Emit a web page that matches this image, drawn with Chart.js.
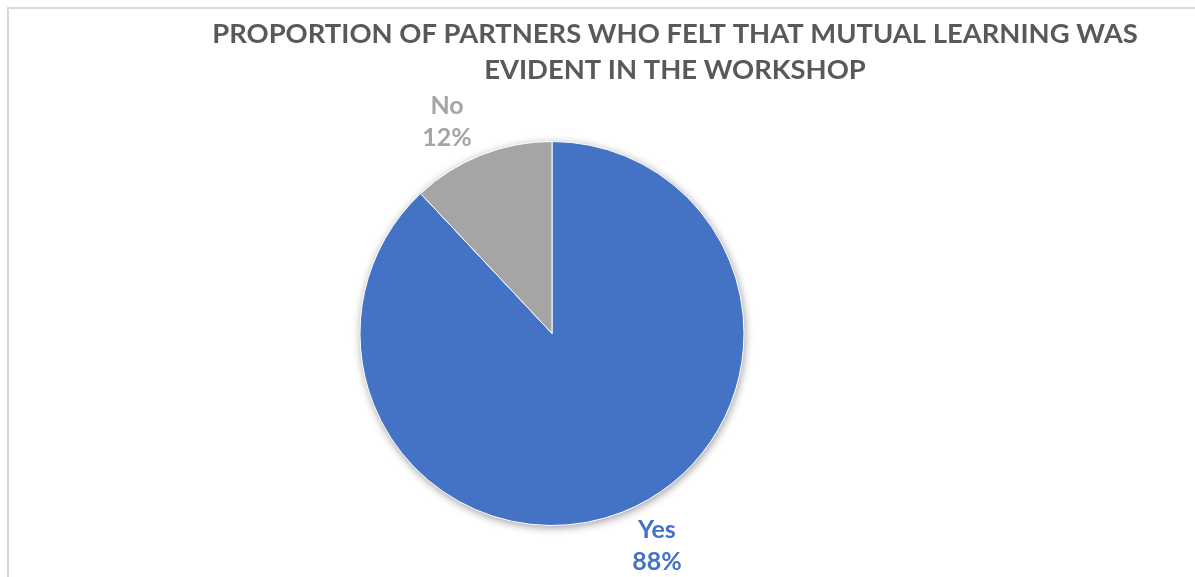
<!DOCTYPE html>
<html>
<head>
<meta charset="utf-8">
<script src="https://cdn.jsdelivr.net/npm/chart.js@4"></script>
<style>
  html, body { margin: 0; padding: 0; background: #ffffff; }
  #wrap { width: 1195px; height: 577px; position: relative; }
</style>
</head>
<body>
<div id="wrap"><canvas id="learningChart" width="1195" height="577"></canvas></div>
<script>
const categories = ['Yes', 'No'];
const percentValues = [88, 12];
const sliceColors = ['#4472C4', '#A5A5A5'];
const titleLines = ['PROPORTION OF PARTNERS WHO FELT THAT MUTUAL LEARNING WAS', 'EVIDENT IN THE WORKSHOP'];

////////////////////////frame + title////////////////////
const frameAndTitle = {
  id: 'frameAndTitle',
  beforeDraw(chart) {
    const ctx = chart.ctx;
    ctx.save();
    ctx.strokeStyle = '#d9d9d9';
    ctx.lineWidth = 2;
    ctx.strokeRect(8, 8, 1300, 700);
    ctx.fillStyle = '#595959';
    ctx.font = 'bold 27.4px Lato';
    ctx.textAlign = 'center';
    ctx.textBaseline = 'alphabetic';
    ctx.fillText(titleLines[0], 675, 43);
    ctx.fillText(titleLines[1], 675, 79);
    ctx.restore();
  },
  beforeDatasetsDraw(chart) {
    // soft shadow under the whole pie
    const arc = chart.getDatasetMeta(0).data[0];
    const ctx = chart.ctx;
    ctx.save();
    ctx.shadowColor = 'rgba(0,0,0,0.4)';
    ctx.shadowBlur = 8;
    ctx.shadowOffsetX = 1;
    ctx.shadowOffsetY = 2;
    ctx.fillStyle = '#ffffff';
    ctx.beginPath();
    ctx.arc(arc.x, arc.y, arc.outerRadius, 0, Math.PI * 2);
    ctx.fill();
    ctx.restore();
  }
};

////////////////////////labels outside the slices////////////////////
const outsideLabels = {
  id: 'outsideLabels',
  afterDatasetsDraw(chart) {
    const ctx = chart.ctx;
    const meta = chart.getDatasetMeta(0);
    ctx.save();
    ctx.font = 'bold 25px Lato';
    ctx.textAlign = 'center';
    ctx.textBaseline = 'middle';
    meta.data.forEach(function (arc, i) {
      const mid = (arc.startAngle + arc.endAngle) / 2;
      const dx = Math.cos(mid);
      const dy = Math.sin(mid);
      const x = arc.x + dx * (arc.outerRadius + 93);
      const y = arc.y + dy * (arc.outerRadius + 36);
      ctx.fillStyle = sliceColors[i];
      ctx.fillText(categories[i], x, y - 16);
      ctx.fillText(percentValues[i] + '%', x, y + 16);
    });
    ctx.restore();
  }
};

document.addEventListener('DOMContentLoaded', function () {
  const canvas = document.getElementById('learningChart').getContext('2d');
  const chart = new Chart(canvas, {
    type: 'pie',
    data: {
      labels: categories,
      datasets: [{
        data: percentValues,
        backgroundColor: sliceColors,
        borderColor: '#ffffff',
        borderWidth: 1
      }]
    },
    options: {
      responsive: false,
      maintainAspectRatio: false,
      animation: false,
      layout: {
        padding: { top: 141, bottom: 51, left: 302, right: 393 }
      },
      plugins: {
        legend: { display: false },
        tooltip: { enabled: false },
        title: { display: false }
      }
    },
    plugins: [frameAndTitle, outsideLabels]
  });
});
</script>
</body>
</html>
